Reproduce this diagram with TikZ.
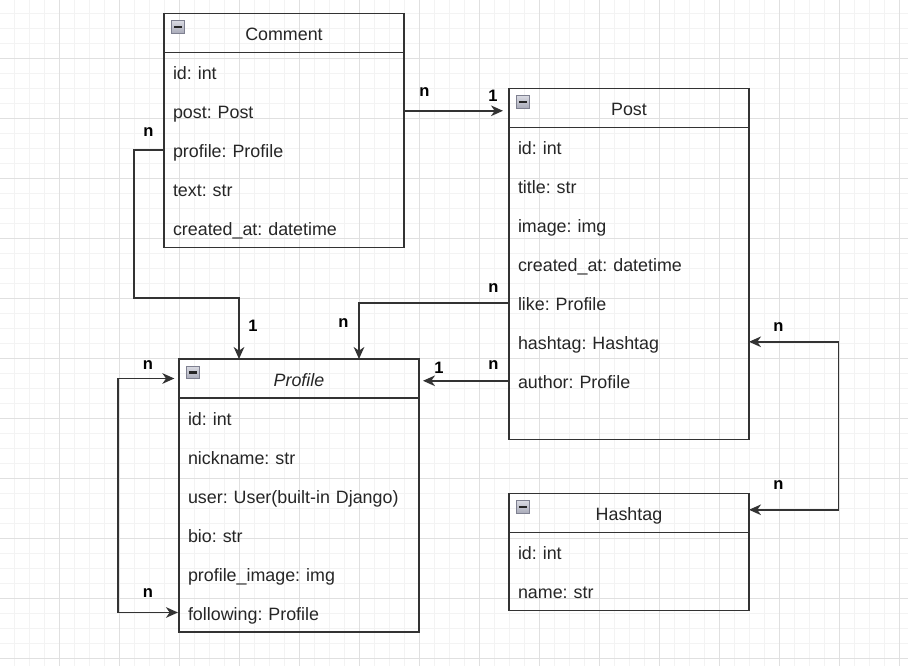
\documentclass[tikz,border=0pt]{standalone}
\usepackage{fontspec}
\setmainfont{Liberation Sans}
\usetikzlibrary{arrows.meta,calc}
\definecolor{ln}{HTML}{333333}
\definecolor{txt}{HTML}{262626}
\definecolor{gmaj}{HTML}{E0E0E0}
\definecolor{gmin}{HTML}{F3F3F3}
\definecolor{icotop}{HTML}{DADBE3}
\definecolor{icobot}{HTML}{A9ABB9}
\definecolor{icoline}{HTML}{7E8090}
\tikzset{
  frame/.style={draw=ln, line width=1.15pt, outer sep=0pt},
  hdr/.style={frame, anchor=north west, minimum width=180pt, minimum height=29.25pt,
    inner sep=0pt, text height=12.3pt, text depth=0pt, text=txt,
    font=\fontsize{13.4pt}{16pt}\selectfont\frenchspacing},
  body/.style={frame, anchor=north west, minimum width=180pt, inner sep=0pt},
  row/.style={anchor=north west, minimum width=180pt, minimum height=29.25pt, outer sep=0pt,
    inner xsep=6.75pt, inner ysep=0pt, text width=166.5pt, align=left,
    text height=12.3pt, text depth=0pt, text=txt,
    font=\fontsize{13.4pt}{16pt}\selectfont\frenchspacing},
  icon/.style={draw=icoline, line width=0.6pt, top color=icotop, bottom color=icobot,
    minimum width=9.6pt, minimum height=9.6pt, inner sep=0pt,
    path picture={\draw[line width=1.6pt, black!85]
      ($(path picture bounding box.west)+(1.8pt,0)$) --
      ($(path picture bounding box.east)+(-1.8pt,0)$);}},
  conn/.style={draw=ln, line width=1.15pt},
  tip/.tip={Stealth[length=9pt, width=8pt, inset=2.8pt]},
  lbl/.style={inner sep=0pt, text=black, font=\fontsize{12.4pt}{14pt}\selectfont\bfseries},
}
\begin{document}
\begin{tikzpicture}[x=0.75pt, y=-0.75pt]
\useasboundingbox (0,0) rectangle (908,666);
\fill[white] (0,0) rectangle (908,666);
% grid
\foreach \g in {14,29,...,908} \draw[gmin, line width=0.75pt] (\g,0) -- (\g,666);
\foreach \g in {13.5,28.5,...,666} \draw[gmin, line width=0.75pt] (0,\g) -- (908,\g);
\foreach \g in {59,119,...,908} \draw[gmaj, line width=0.75pt] (\g,0) -- (\g,666);
\foreach \g in {58.5,118.5,...,666} \draw[gmaj, line width=0.75pt] (0,\g) -- (908,\g);

% ---------- Comment ----------
\node[hdr] (commentH) at (164,13.3) {Comment};
\node[body, minimum height=146.25pt] (commentB) at (commentH.south west) {};
\node[row] (cid) at (commentH.south west) {id: int};
\node[row] (cpost) at (cid.south west) {post: Post};
\node[row] (cprofile) at (cpost.south west) {profile: Profile};
\node[row] (ctext) at (cprofile.south west) {text: str};
\node[row] (ccreated) at (ctext.south west) {created\_at: datetime};
\node[icon] (icC) at ($(commentH.north west)+(14,13.5)$) {};

% ---------- Post ----------
\node[hdr] (postH) at (509,88.3) {Post};
\node[body, minimum height=234pt] (postB) at (postH.south west) {};
\node[row] (pid) at (postH.south west) {id: int};
\node[row] (ptitle) at (pid.south west) {title: str};
\node[row] (pimage) at (ptitle.south west) {image: img};
\node[row] (pcreated) at (pimage.south west) {created\_at: datetime};
\node[row] (plike) at (pcreated.south west) {like: Profile};
\node[row] (phashtag) at (plike.south west) {hashtag: Hashtag};
\node[row] (pauthor) at (phashtag.south west) {author: Profile};
\node[icon] (icP) at ($(postH.north west)+(14,13.5)$) {};

% ---------- Profile ----------
\node[hdr] (profH) at (179,359) {\itshape Profile};
\node[body, minimum height=175.5pt] (profB) at (profH.south west) {};
\node[row] (fid) at (profH.south west) {id: int};
\node[row] (fnick) at (fid.south west) {nickname: str};
\node[row] (fuser) at (fnick.south west) {user: User(built-in Django)};
\node[row] (fbio) at (fuser.south west) {bio: str};
\node[row] (fimage) at (fbio.south west) {profile\_image: img};
\node[row] (ffollowing) at (fimage.south west) {following: Profile};
\node[icon] (icF) at ($(profH.north west)+(14,13.5)$) {};

% ---------- Hashtag ----------
\node[hdr] (hashH) at (509,493.3) {Hashtag};
\node[body, minimum height=58.5pt] (hashB) at (hashH.south west) {};
\node[row] (hid) at (hashH.south west) {id: int};
\node[row] (hname) at (hid.south west) {name: str};
\node[icon] (icH) at ($(hashH.north west)+(14,13.5)$) {};

% ---------- connectors ----------
\coordinate (likeT) at ($(profH.north west)!0.75!(profH.north east)$);
\coordinate (cmT) at ($(profH.north west)!0.25!(profH.north east)$);
\coordinate (cmB) at (134,298);
\coordinate (loopX) at (118,500);
\coordinate (hashX) at (838.5,420);

\draw[conn, -tip, shorten >=4.5pt] (cpost.east) -- (cpost.east -| postH.west);
\draw[conn, -tip] (plike.west) -| (likeT);
\draw[conn, -tip] (cprofile.west) -| (cmB) -| (cmT);
\draw[conn, -tip, shorten >=3pt] (pauthor.west) -- (pauthor.west -| profH.east);
\draw[conn, tip-tip, shorten <=3.5pt, shorten >=0.8pt] (profH.west) -- (profH.west -| loopX) |- (ffollowing.west);
\draw[conn, tip-tip] (phashtag.east) -| (hashX) |- ([yshift=2.25pt]hashH.east);

% ---------- labels ----------
\node[lbl] (l1) at (424.5,92) {n};
\node[lbl] (l2) at (493,95.5) {1};
\node[lbl] (l3) at (148.5,132.5) {n};
\node[lbl] (l4) at (253,326) {1};
\node[lbl] (l5) at (343.5,323) {n};
\node[lbl] (l6) at (493.5,288) {n};
\node[lbl] (l7) at (493.5,365.5) {n};
\node[lbl] (l8) at (439,368) {1};
\node[lbl] (l9) at (148,365.5) {n};
\node[lbl] (l10) at (148,593.5) {n};
\node[lbl] (l11) at (778.5,327) {n};
\node[lbl] (l12) at (778.5,485.5) {n};
\end{tikzpicture}
\end{document}
